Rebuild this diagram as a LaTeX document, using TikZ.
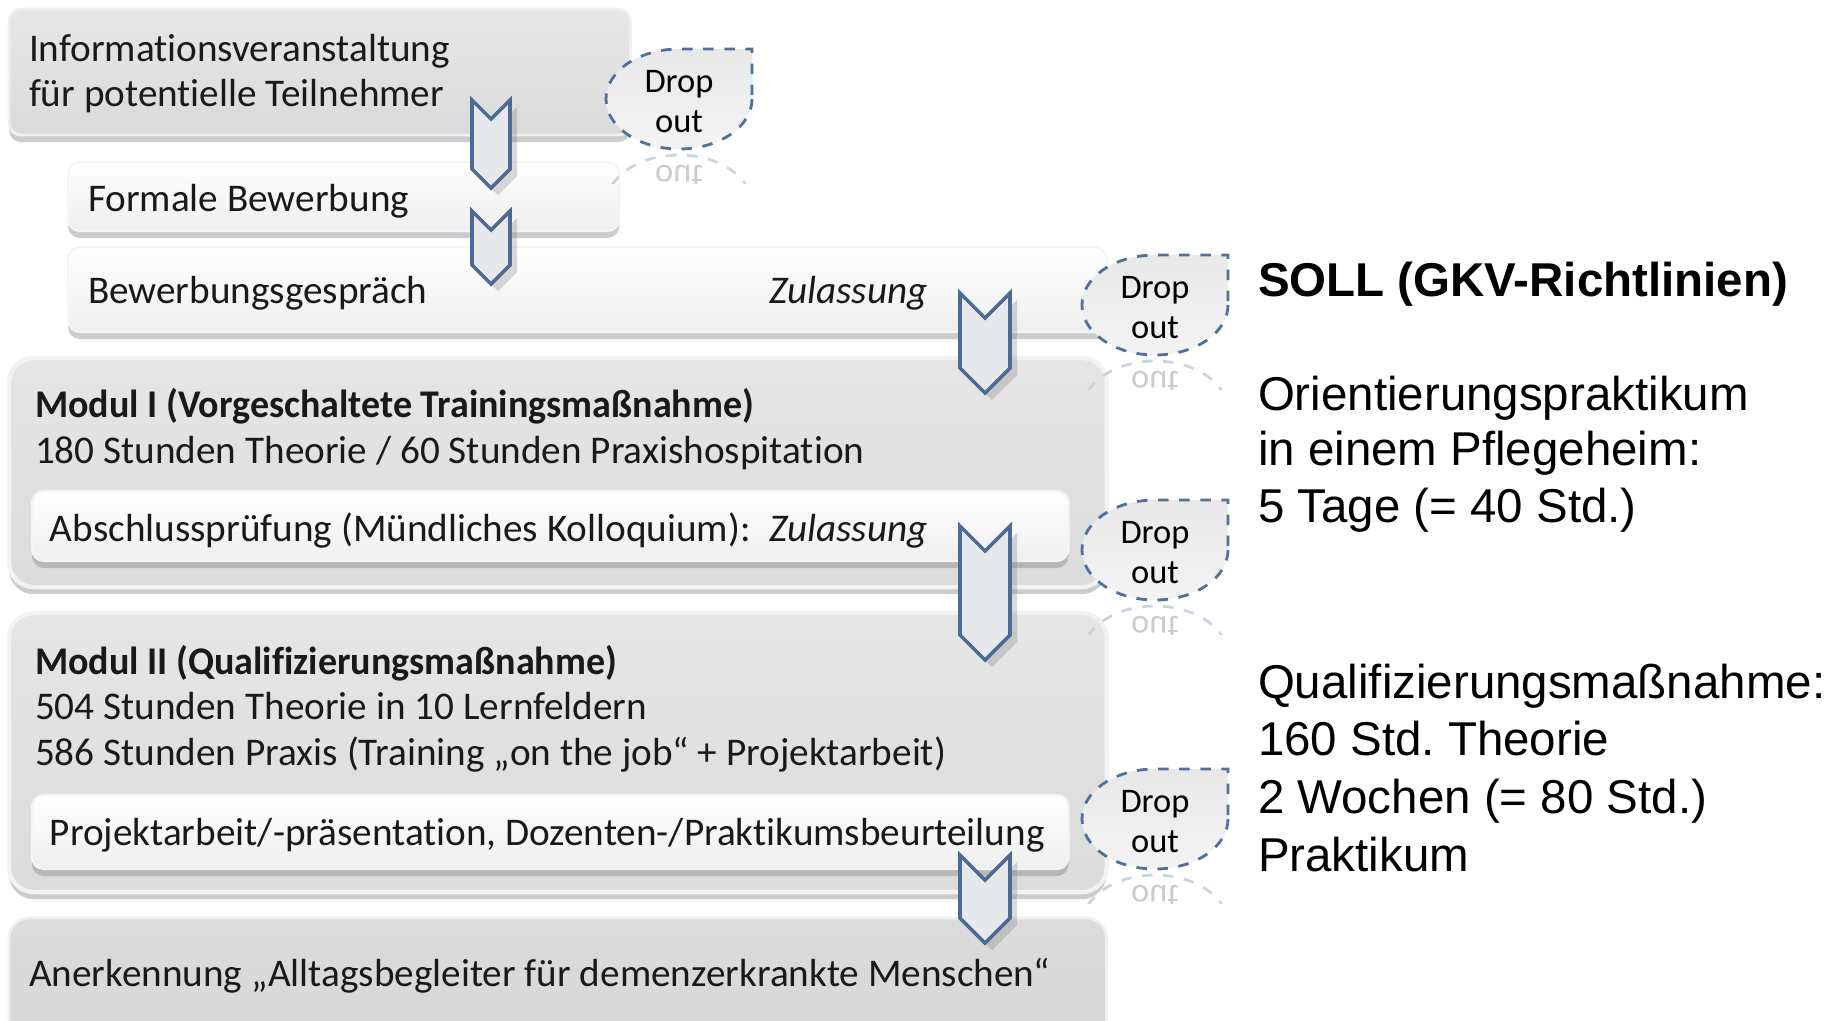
\documentclass[tikz,border=0pt]{standalone}
\usepackage{fontspec}
\setmainfont{Carlito}[Ligatures=NoCommon]
\newfontfamily\arialfont{Liberation Sans}
\usetikzlibrary{shadows}
\definecolor{arrowblue}{HTML}{4B6A96}
\definecolor{arrowfill}{HTML}{E6E8EC}
\definecolor{dropblue}{HTML}{50709E}
\frenchspacing

\begin{document}
\begin{tikzpicture}[x=0.01cm, y=-0.01cm,
    every node/.style={inner sep=0pt, outer sep=0pt},
    txt/.style={anchor=base west, text=black!90, font=\fontsize{11.15}{13}\selectfont},
    rtxt/.style={anchor=base west, font=\arialfont\fontsize{13.5}{16}\selectfont},
    box/.style={anchor=north west, rounded corners=0.12cm,
        drop shadow={shadow xshift=0pt, shadow yshift=-2pt, opacity=0.4}},
    darkbox/.style={box, top color=gray!19, bottom color=gray!29, draw=gray!12, line width=0.8pt},
    lightbox/.style={box, top color=white, bottom color=gray!13, draw=gray!8, line width=0.6pt},
    modbox/.style={box, rounded corners=0.25cm, top color=gray!20, bottom color=gray!28,
        draw=gray!10, line width=1.2pt},
    chevron/.style={draw=arrowblue, fill=arrowfill, line width=1pt, line join=miter,
        drop shadow={shadow xshift=2pt, shadow yshift=-2pt, opacity=0.3}},
    dropshape/.style={draw=dropblue, dashed, line width=0.8pt, top color=gray!18, bottom color=gray!9},
  ]
  \useasboundingbox (0,0) rectangle (1841,1020);

  % boxes
  \node[darkbox, minimum width=6.21cm, minimum height=1.26cm] (info) at (9,9) {};
  \node[lightbox, minimum width=5.51cm, minimum height=0.69cm] (formal) at (68,162) {};
  \node[lightbox, minimum width=10.38cm, minimum height=0.85cm] (gespraech) at (68,247) {};
  \node[modbox, minimum width=10.97cm, minimum height=2.29cm] (modul1) at (9,358) {};
  \node[lightbox, minimum width=10.36cm, minimum height=0.70cm] (pruefung) at (32,491) {};
  \node[modbox, minimum width=10.97cm, minimum height=2.79cm] (modul2) at (9,613) {};
  \node[lightbox, minimum width=10.36cm, minimum height=0.74cm] (projekt) at (32,795) {};
  \node[darkbox, rounded corners=0.2cm, top color=gray!28, bottom color=gray!32, minimum width=10.97cm, minimum height=1.4cm] (anerkennung) at (9,918) {};

  % texts left
  \node[txt] (infotxt) at (29,61) {Informationsveranstaltung};
  \node[txt] (infotxtb) at (29,106) {für potentielle Teilnehmer};
  \node[txt] (formaltxt) at (88,211) {Formale Bewerbung};
  \node[txt] (gespraechtxt) at (88,303) {Bewerbungsgespräch};
  \node[txt] (zul1) at (769,303) {\itshape Zulassung};
  \node[txt] (modul1txt) at (35,417) {\scalebox{0.97}[1]{\bfseries Modul I (Vorgeschaltete Trainingsmaßnahme)}};
  \node[txt] (modul1txtb) at (35,463) {180 Stunden Theorie / 60 Stunden Praxishospitation};
  \node[txt] (pruefungtxt) at (50,541) {Abschlussprüfung (Mündliches Kolloquium):};
  \node[txt] (zul2) at (769,541) {\itshape Zulassung};
  \node[txt] (modul2txt) at (35,674) {\scalebox{0.97}[1]{\bfseries Modul II (Qualifizierungsmaßnahme)}};
  \node[txt] (modul2txtb) at (35,719) {504 Stunden Theorie in 10 Lernfeldern};
  \node[txt] (modul2txtc) at (35,765) {586 Stunden Praxis (Training „on the job“ + Projektarbeit)};
  \node[txt] (projekttxt) at (50,845) {Projektarbeit/-präsentation, Dozenten-/Praktikumsbeurteilung};
  \node[txt] (anerkennungtxt) at (29,986) {Anerkennung „Alltagsbegleiter für demenzerkrankte Menschen“};

  % chevrons
  \foreach \x/\y/\w/\h in {491/100/38/88, 491/211/38/73, 985/293/50/100, 985/526/50/134, 985/855/50/88}
    \draw[chevron] (\x-\w/2,\y) -- (\x,\y+\w/2) -- (\x+\w/2,\y) -- (\x+\w/2,\y+\h-\w/2)
      -- (\x,\y+\h) -- (\x-\w/2,\y+\h-\w/2) -- cycle;

  % drop outs with reflection
  \foreach \x/\y [count=\i] in {679/99, 1155/305, 1155/550, 1155/819} {
    \begin{scope}
      \clip (\x-80,\y+52) rectangle (\x+80,\y+84);
      \draw[dropblue!30, dashed, line width=0.8pt] (\x-73,\y+106) arc[start angle=180, end angle=360, x radius=73, y radius=50];
      \node[text=gray!40, yscale=-1, anchor=base, font=\fontsize{9.8}{11}\selectfont] (mirror\i) at (\x,\y+66) {out};
    \end{scope}
    \draw[dropshape] (\x+73,\y) arc[start angle=0, end angle=270, x radius=73, y radius=50] -- (\x+73,\y-50) -- cycle;
    \node[align=center, text=black, font=\fontsize{9.8}{11.4}\selectfont] (drop\i) at (\x,\y+3) {Drop\\out};
  }

  % right side
  \node[rtxt] (soll) at (1258,296) {\bfseries SOLL (GKV-Richtlinien)};
  \foreach \t/\y [count=\i] in {Orientierungspraktikum/410, in einem Pflegeheim:/465, 5 Tage (= 40 Std.)/522}
    \node[rtxt] (orient\i) at (1258,\y) {\t};
  \foreach \t/\y [count=\i] in {Qualifizierungsmaßnahme:/698, 160 Std. Theorie/755, 2 Wochen (= 80 Std.)/813, Praktikum/871}
    \node[rtxt] (quali\i) at (1258,\y) {\t};
\end{tikzpicture}
\end{document}
